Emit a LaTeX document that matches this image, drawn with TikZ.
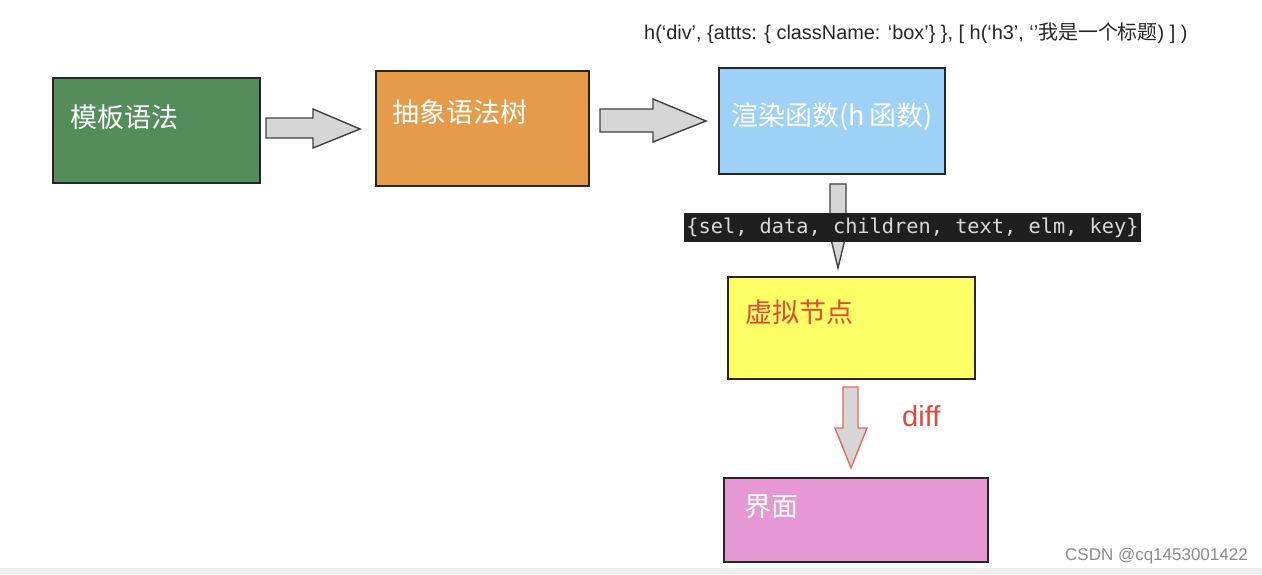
\documentclass[tikz,border=0pt]{standalone}
\usepackage{fontspec}
\setmainfont{Liberation Sans}
\newfontfamily\cjk{Noto Sans CJK SC}
\newfontfamily\monofnt{DejaVu Sans Mono}
\definecolor{cgreen}{HTML}{548C5B}
\definecolor{corange}{HTML}{E69B4B}
\definecolor{cblue}{HTML}{9DD1F6}
\definecolor{cyellow}{HTML}{FFFF66}
\definecolor{cpink}{HTML}{E598D3}
\definecolor{cred}{HTML}{E5483A}
\definecolor{carrow}{HTML}{D6D6D6}
\definecolor{credline}{HTML}{E8665A}
\begin{document}
\begin{tikzpicture}[x=1pt,y=-1pt,
  boxst/.style={draw=black!85,line width=1.3pt},
  blk/.style={draw=black!75,fill=carrow,line width=1.4pt,line join=miter},
  lbl/.style={anchor=west,inner sep=0pt,font=\cjk\fontsize{27}{27}\selectfont}]
\useasboundingbox (0,0) rectangle (1262,574);
\fill[white] (0,0) rectangle (1262,574);
\fill[black!7] (0,568) rectangle (1262,574);
% boxes
\draw[boxst,fill=cgreen] (53,78) rectangle (260,183);
\draw[boxst,fill=corange] (376,71) rectangle (589,186);
\draw[boxst,fill=cblue] (719,68) rectangle (945,174);
\draw[boxst,fill=cyellow] (728,277) rectangle (975,379);
\draw[boxst,fill=cpink] (724,478) rectangle (988,562);
% labels
\node[lbl,text=white] (t1) at (70,117) {模板语法};
\node[lbl,text=white] (t2) at (392,112) {抽象语法树};
\node[lbl,text=white] (t3) at (731,117) {渲染函数(h\,函数)};
\node[lbl,text=cred] (t4) at (745,312) {虚拟节点};
\node[lbl,text=white] (t5) at (744,507) {界面};
% block arrows
\draw[blk] (266,118) -- (313,118) -- (313,109) -- (360,129) -- (313,148) -- (313,138) -- (266,138) -- cycle;
\draw[blk] (600,109) -- (653,109) -- (653,99) -- (706,121) -- (653,142) -- (653,132) -- (600,132) -- cycle;
\draw[blk] (830,184) -- (846,184) -- (846,235) -- (838,268) -- (830,235) -- cycle;
\draw[draw=credline,fill=carrow,line width=1.4pt] (843,387) -- (858,387) -- (858,428) -- (867,428) -- (851,468) -- (835,428) -- (843,428) -- cycle;
% code label
\node[fill=black!88,text=black!15,inner sep=0pt,minimum height=29pt,minimum width=457pt,font=\monofnt\fontsize{20.3}{21}\selectfont] (code) at (912.5,227.5) {\{sel, data, children, text, elm, key\}};
% diff
\node[anchor=west,inner sep=0pt,text=cred,font=\fontsize{29}{29}\selectfont] (diff) at (902,416) {diff};
% top text
\node[anchor=west,inner sep=0pt,text=black!85,font=\fontsize{19.9}{20}\selectfont] (top) at (644,33) {h(‘div’, \{attts: \{ className: ‘box’\} \}, [ h(‘h3’, ‘’{\cjk 我是一个标题}) ] )};
% watermark
\node[anchor=east,inner sep=0pt,text=black!45,font=\fontsize{17}{17}\selectfont] (wm) at (1248,556) {CSDN @cq1453001422};
\end{tikzpicture}
\end{document}
